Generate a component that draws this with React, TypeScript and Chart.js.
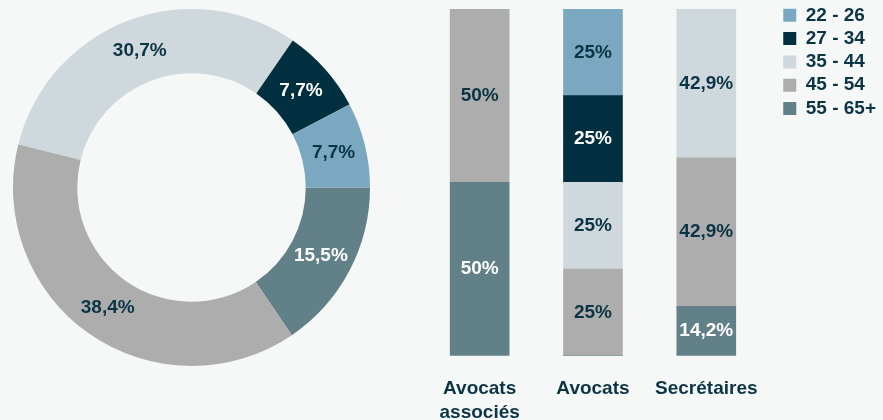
import React, { useEffect, useRef } from "react";
import { Chart, registerables } from "chart.js";

Chart.register(...registerables);

const ageGroups = ["22 - 26", "27 - 34", "35 - 44", "45 - 54", "55 - 65+"];
const groupColors = ["#7aa8c1", "#00303f", "#cfd8dc", "#adadad", "#628088"];
const labelColors = ["#0b3545", "#ffffff", "#0b3545", "#0b3545", "#ffffff"];

// overall distribution (percent) per age group, same order as ageGroups
const overallShare = [7.7, 7.7, 30.7, 38.4, 15.5];

const jobCategories = [["Avocats", "associés"], "Avocats", "Secrétaires"];
// per age group, values for [Avocats associés, Avocats, Secrétaires]
const share22to26 = [0, 25, 0];
const share27to34 = [0, 25, 0];
const share35to44 = [0, 25, 42.9];
const share45to54 = [50, 25, 42.9];
const share55to65 = [50, 0, 14.2];

const BG = "#f6f8f8";
const TEXT = "#0b3545";
const FONT = "'Liberation Sans', Arial, Helvetica, sans-serif";

const fmt = (v: number) => String(v).replace(".", ",") + "%";

const valueLabels = {
  id: "valueLabels",
  afterDatasetsDraw(chart: any) {
    const ctx = chart.ctx;
    ctx.save();
    ctx.font = `bold 19px ${FONT}`;
    ctx.textAlign = "center";
    ctx.textBaseline = "middle";
    chart.data.datasets.forEach((ds: any, di: number) => {
      const meta = chart.getDatasetMeta(di);
      meta.data.forEach((el: any, i: number) => {
        const v = ds.data[i];
        if (!v) return;
        const p = el.getCenterPoint ? el.getCenterPoint() : el.tooltipPosition();
        const col = Array.isArray(ds.labelColor) ? ds.labelColor[i] : ds.labelColor;
        ctx.fillStyle = col;
        ctx.fillText(fmt(v), p.x, p.y);
      });
    });
    ctx.restore();
  },
};

// place the legend block in the top-right corner, away from the bars
const legendPlacement = {
  id: "legendPlacement",
  afterLayout(chart: any) {
    const l = chart.legend;
    if (!l) return;
    const dx = 16;
    const dy = -7.5;
    l.left += dx;
    l.right += dx;
    l.top += dy;
    l.bottom += dy;
  },
};

export default function App() {
  const pieRef = useRef<HTMLCanvasElement>(null);
  const barRef = useRef<HTMLCanvasElement>(null);

  useEffect(() => {
    const order = [4, 3, 2, 1, 0];
    const pie = new Chart(pieRef.current!, {
      type: "doughnut",
      data: {
        labels: order.map((i) => ageGroups[i]),
        datasets: [
          {
            data: order.map((i) => overallShare[i]),
            backgroundColor: order.map((i) => groupColors[i]),
            borderWidth: 0,
            labelColor: order.map((i) => labelColors[i]),
          } as any,
        ],
      },
      options: {
        responsive: false,
        animation: false,
        rotation: 90,
        cutout: "64%",
        layout: { padding: 0 },
        plugins: { legend: { display: false }, tooltip: { enabled: false } },
      },
      plugins: [valueLabels],
    });

    const series = [share55to65, share45to54, share35to44, share27to34, share22to26];
    const bar = new Chart(barRef.current!, {
      type: "bar",
      data: {
        labels: jobCategories as any,
        datasets: series.map((s, k) => {
          const gi = 4 - k;
          return {
            label: ageGroups[gi],
            data: s,
            backgroundColor: groupColors[gi],
            borderWidth: 0,
            barThickness: 59,
            labelColor: labelColors[gi],
          } as any;
        }),
      },
      options: {
        responsive: false,
        animation: false,
        layout: { padding: { top: 9, left: 0, right: 16, bottom: 0 } },
        scales: {
          x: {
            stacked: true,
            grid: { display: false },
            border: { display: false },
            ticks: {
              color: TEXT,
              font: { family: FONT, size: 19, weight: "bold", lineHeight: 1.22 },
              padding: 14,
              maxRotation: 0,
            },
          },
          y: {
            stacked: true,
            display: false,
            min: 0,
            max: 100,
          },
        },
        plugins: {
          tooltip: { enabled: false },
          legend: {
            position: "right",
            align: "start",
            reverse: true,
            labels: {
              boxWidth: 13,
              boxHeight: 13,
              padding: 4.3,
              color: TEXT,
              font: { family: FONT, size: 19, weight: "bold" },
            },
          },
        },
      },
      plugins: [valueLabels, legendPlacement],
    });

    return () => {
      pie.destroy();
      bar.destroy();
    };
  }, []);

  return (
    <div
      style={{
        position: "fixed",
        left: 0,
        top: 0,
        width: 883,
        height: 420,
        background: BG,
        overflow: "hidden",
      }}
    >
      <canvas
        ref={pieRef}
        width={357}
        height={357}
        style={{ position: "absolute", left: 13, top: 9 }}
      />
      <canvas
        ref={barRef}
        width={463}
        height={438}
        style={{ position: "absolute", left: 423, top: 0 }}
      />
    </div>
  );
}
